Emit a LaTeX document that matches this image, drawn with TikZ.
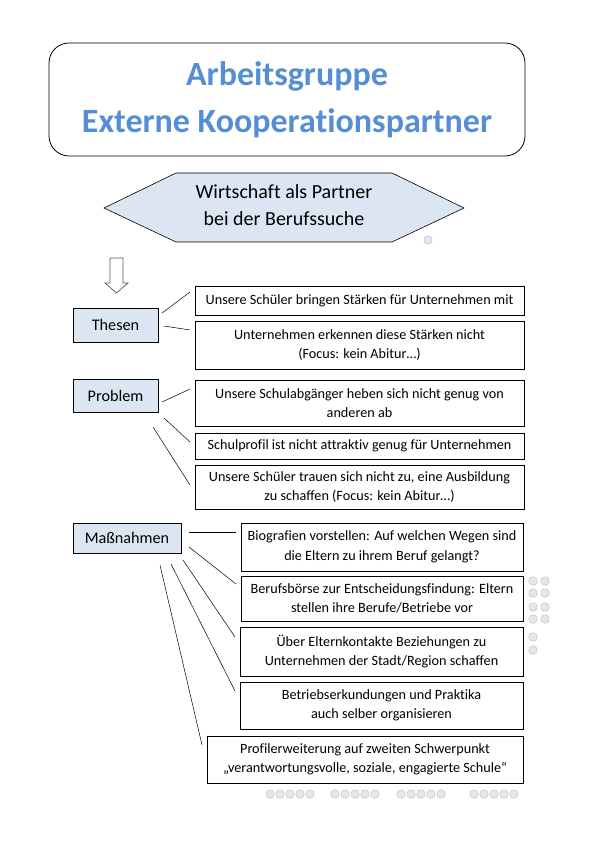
\documentclass[tikz,border=0pt]{standalone}
\usepackage{fontspec}
\setmainfont{Carlito}[Ligatures={NoCommon}]
\definecolor{titleblue}{HTML}{558ED5}
\definecolor{boxfill}{HTML}{DCE6F2}
\definecolor{dotfill}{HTML}{E4E8EE}
\begin{document}
\begin{tikzpicture}[x=1pt,y=-1pt,
  txtbox/.style={draw, line width=0.8pt, align=center, inner sep=0pt, font=\fontsize{14.2}{19.5}\selectfont},
  catbox/.style={draw, fill=boxfill, line width=0.8pt, inner sep=0pt, font=\fontsize{16.2}{19}\selectfont},
  link/.style={line width=0.5pt},
  bubble/.style={circle, draw=gray!55, fill=dotfill, line width=0.4pt, minimum size=8.5pt, inner sep=0pt}]
\useasboundingbox (0,0) rectangle (595,842);
\fill[white] (0,0) rectangle (595,842);

% title
\node[draw, line width=0.8pt, rounded corners=20pt, minimum width=476pt, minimum height=113pt, inner sep=0pt] (title) at (287,99.5) {};
\node[text=titleblue, font=\fontsize{34}{47}\selectfont\bfseries, align=center] (titletext) at (287,100) {Arbeitsgruppe\\Externe Kooperationspartner};

% hexagon
\draw[line width=0.6pt, fill=boxfill] (104,208) -- (176,173) -- (392,173) -- (464,208) -- (392,242) -- (176,242) -- cycle;
\node[font=\fontsize{20}{27}\selectfont, align=center] (hex) at (284,205) {Wirtschaft als Partner\\bei der Berufssuche};
\node[bubble] (b0) at (428,240) {};

% down arrow
\draw[line width=0.7pt, draw=gray!70!black, fill=white] (110,258) -- (123,258) -- (123,283) -- (128,283) -- (116.5,293) -- (105,283) -- (110,283) -- cycle;

% category boxes
\node[catbox, minimum width=85pt, minimum height=34pt] (thesen) at (115.5,325) {Thesen};
\node[catbox, minimum width=85pt, minimum height=33pt] (problem) at (115.5,395.5) {Problem};
\node[catbox, minimum width=108pt, minimum height=30pt] (mass) at (127,538) {Maßnahmen};

% thesen boxes
\node[txtbox, minimum width=329pt, minimum height=29pt] (t1) at (359.5,300.5) {Unsere Schüler bringen Stärken für Unternehmen mit};
\node[txtbox, minimum width=329pt, minimum height=48pt] (t2) at (359.5,345) {Unternehmen erkennen diese Stärken nicht\\(Focus: kein Abitur…)};

% problem boxes
\node[txtbox, minimum width=329pt, minimum height=46pt] (p1) at (359.5,403) {Unsere Schulabgänger heben sich nicht genug von\\anderen ab};
\node[txtbox, minimum width=329pt, minimum height=26pt] (p2) at (359.5,446) {Schulprofil ist nicht attraktiv genug für Unternehmen};
\node[txtbox, minimum width=329pt, minimum height=44pt] (p3) at (359.5,487) {Unsere Schüler trauen sich nicht zu, eine Ausbildung\\zu schaffen (Focus: kein Abitur…)};

% massnahmen boxes
\node[txtbox, minimum width=282pt, minimum height=48pt] (m1) at (382,547) {Biografien vorstellen: Auf welchen Wegen sind\\die Eltern zu ihrem Beruf gelangt?};
\node[txtbox, minimum width=282pt, minimum height=45pt] (m2) at (382,598.5) {Berufsbörse zur Entscheidungsfindung: Eltern\\stellen ihre Berufe/Betriebe vor};
\node[txtbox, minimum width=283pt, minimum height=49pt] (m3) at (381.5,651.5) {Über Elternkontakte Beziehungen zu\\Unternehmen der Stadt/Region schaffen};
\node[txtbox, minimum width=283pt, minimum height=47pt] (m4) at (381.5,705.5) {Betriebserkundungen und Praktika\\auch selber organisieren};
\node[txtbox, minimum width=316pt, minimum height=47pt] (m5) at (365,759.5) {Profilerweiterung auf zweiten Schwerpunkt\\„verantwortungsvolle, soziale, engagierte Schule“};

% connector end points
\coordinate (ta1) at (162,313); \coordinate (tb1) at (190,292);
\coordinate (ta2) at (164,326); \coordinate (tb2) at (190,330);
\coordinate (pa1) at (162,402); \coordinate (pb1) at (190,389);
\coordinate (pa2) at (164,418); \coordinate (pb2) at (190,442);
\coordinate (pa3) at (153,427); \coordinate (pb3) at (190,485);
\coordinate (ma1) at (189,532); \coordinate (mb1) at (236,532);
\coordinate (ma2) at (189,547); \coordinate (mb2) at (236,584);
\coordinate (ma3) at (183,560); \coordinate (mb3) at (235,637);
\coordinate (ma4) at (171,564); \coordinate (mb4) at (235,691);
\coordinate (ma5) at (160,565); \coordinate (mb5) at (202,745);

\draw[link] (ta1) -- (tb1);
\draw[link] (ta2) -- (tb2);
\draw[link] (pa1) -- (pb1);
\draw[link] (pa2) -- (pb2);
\draw[link] (pa3) -- (pb3);
\draw[link] (ma1) -- (mb1);
\draw[link] (ma2) -- (mb2);
\draw[link] (ma3) -- (mb3);
\draw[link] (ma4) -- (mb4);
\draw[link] (ma5) -- (mb5);

% bubbles at right
\foreach \yy [count=\i] in {581,593,607,619} {
  \node[bubble] (br\i a) at (533,\yy) {};
  \node[bubble] (br\i b) at (545,\yy) {};
}
\node[bubble] (bs1) at (533,637) {};
\node[bubble] (bs2) at (533,650) {};
% bubbles at bottom
\foreach \xx [count=\i] in {270,280,290,300,310, 335,345,355,365,375, 401,411,421,431,441, 474,484,494,504,514} {
  \node[bubble] (bb\i) at (\xx,794) {};
}
\end{tikzpicture}
\end{document}
